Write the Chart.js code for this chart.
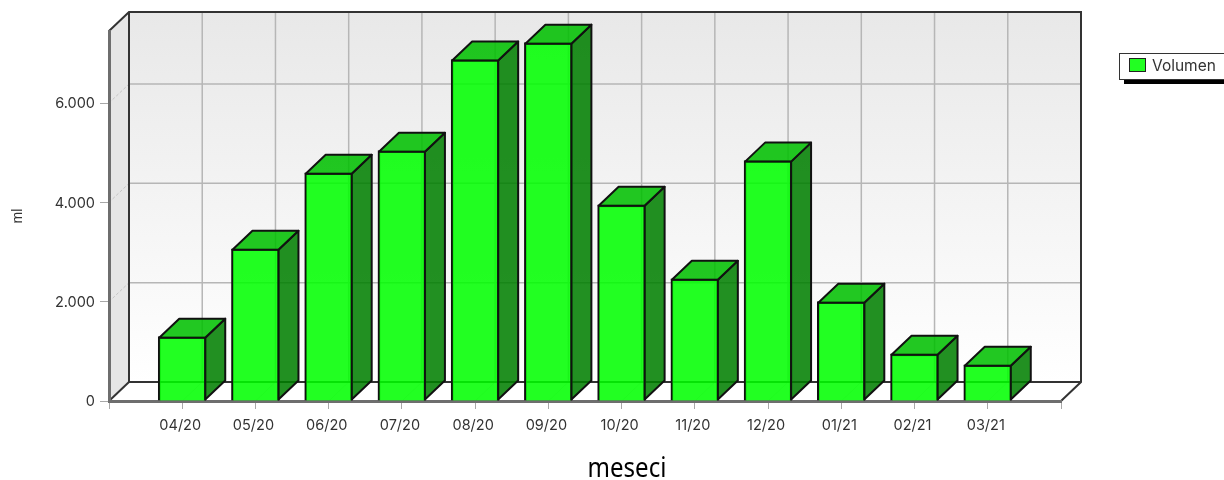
<!DOCTYPE html>
<html>
<head>
<meta charset="utf-8">
<title>Volumen</title>
<script src="https://cdn.jsdelivr.net/npm/chart.js@4"></script>
<style>
  html, body { margin: 0; padding: 0; background: #fff; }
  canvas { display: block; }
</style>
</head>
<body>
<canvas id="myChart" width="1224" height="480"></canvas>
<script>
const categories = ['04/20', '05/20', '06/20', '07/20', '08/20', '09/20', '10/20', '11/20', '12/20', '01/21', '02/21', '03/21'];
const volumen = [1295, 3065, 4595, 5040, 6875, 7215, 3950, 2460, 4840, 2000, 950, 730];
const yTicks = [0, 2000, 4000, 6000];
const yTickLabels = ['0', '2.000', '4.000', '6.000'];
const yMax = 7450;

const depthX = 20;
const depthY = 19;
const labelFont = '15.5px Inter';

// empty slots left and right so the bars sit inside the floor
const xLabels = [''].concat(categories, ['']);
const xValues = [null].concat(volumen, [null]);

function poly(ctx, pts, fill, stroke, lw) {
  ctx.beginPath();
  pts.forEach((p, i) => i ? ctx.lineTo(p[0], p[1]) : ctx.moveTo(p[0], p[1]));
  ctx.closePath();
  if (fill) { ctx.fillStyle = fill; ctx.fill(); }
  if (stroke) { ctx.strokeStyle = stroke; ctx.lineWidth = lw || 1; ctx.stroke(); }
}

function line(ctx, x1, y1, x2, y2) {
  ctx.beginPath();
  ctx.moveTo(x1, y1);
  ctx.lineTo(x2, y2);
  ctx.stroke();
}

/****walls, floor and grid*****/
const boxPlugin = {
  id: 'box',
  beforeDraw(chart) {
    const ctx = chart.ctx, a = chart.chartArea;
    const x = chart.scales.x, y = chart.scales.y;
    const backL = a.left + depthX, backR = a.right + depthX;
    const backT = a.top - depthY, backB = a.bottom - depthY;
    ctx.save();

    const wall = ctx.createLinearGradient(0, backT, 0, backB);
    wall.addColorStop(0, '#e8e8e8');
    wall.addColorStop(1, '#ffffff');
    poly(ctx, [[backL, backT], [backR, backT], [backR, backB], [backL, backB]], wall);
    poly(ctx, [[a.left, a.top], [backL, backT], [backL, backB], [a.left, a.bottom]], '#e6e6e6');
    poly(ctx, [[a.left, a.bottom], [backL, backB], [backR, backB], [a.right, a.bottom]], '#ffffff');

    ctx.strokeStyle = '#b6b6b6';
    ctx.lineWidth = 1.5;
    x.ticks.forEach((t, i) => {
      if (i === 0 || i === x.ticks.length - 1) return;
      const px = x.getPixelForTick(i);
      line(ctx, px + depthX, backT, px + depthX, backB);
    });
    yTicks.forEach(v => {
      if (v === 0) return;
      const py = y.getPixelForValue(v);
      line(ctx, backL, py - depthY, backR, py - depthY);
    });

    // faint lines on the side wall and the floor
    ctx.lineWidth = 1;
    ctx.strokeStyle = '#c4c4c4';
    ctx.setLineDash([3, 2]);
    yTicks.forEach(v => {
      if (v === 0) return;
      const py = y.getPixelForValue(v);
      line(ctx, a.left, py, backL, py - depthY);
    });
    ctx.setLineDash([]);
    ctx.strokeStyle = '#e4e4e4';
    x.ticks.forEach((t, i) => {
      if (i === 0 || i === x.ticks.length - 1) return;
      const px = x.getPixelForTick(i);
      line(ctx, px, a.bottom, px + depthX, backB);
    });

    ctx.strokeStyle = '#333333';
    ctx.lineWidth = 2;
    ctx.beginPath();
    ctx.moveTo(a.left, a.top);
    ctx.lineTo(backL, backT);
    ctx.lineTo(backR, backT);
    ctx.lineTo(backR, backB);
    ctx.lineTo(a.right, a.bottom);
    ctx.stroke();
    line(ctx, backL, backT, backL, backB);
    line(ctx, a.left, a.bottom, backL, backB);
    line(ctx, backL, backB, backR, backB);
    ctx.restore();
  }
};

/****side and top of every bar*****/
const barSidesPlugin = {
  id: 'barSides',
  afterDatasetsDraw(chart) {
    const ctx = chart.ctx;
    ctx.save();
    ctx.lineJoin = 'round';
    chart.getDatasetMeta(0).data.forEach((bar, i) => {
      if (xValues[i] === null) return;
      const right = bar.x + bar.width / 2 - 1;
      const left = bar.x - bar.width / 2 + 1;
      const top = bar.y + 1;
      const base = bar.base - 1;
      poly(ctx, [[right, top], [right + depthX, top - depthY], [right + depthX, base - depthY], [right, base]],
        'rgba(0, 127, 0, 0.867)', '#111111', 2);
      poly(ctx, [[left, top], [left + depthX, top - depthY], [right + depthX, top - depthY], [right, top]],
        'rgba(0, 191, 0, 0.867)', '#111111', 2);
    });
    ctx.restore();
  }
};

/****legend box and x title*****/
const textPlugin = {
  id: 'texts',
  afterDraw(chart) {
    const ctx = chart.ctx;
    ctx.save();
    ctx.fillStyle = '#000000';
    ctx.fillRect(1124, 79, 100, 5);
    ctx.fillStyle = '#ffffff';
    ctx.fillRect(1119.5, 53.5, 110, 26);
    ctx.strokeStyle = '#333333';
    ctx.lineWidth = 1;
    ctx.strokeRect(1119.5, 53.5, 110, 26);
    ctx.fillStyle = 'rgba(0, 255, 0, 0.867)';
    ctx.fillRect(1129.5, 58.5, 16, 13);
    ctx.strokeStyle = '#222222';
    ctx.strokeRect(1129.5, 58.5, 16, 13);
    ctx.fillStyle = '#333333';
    ctx.font = labelFont;
    ctx.textBaseline = 'middle';
    ctx.fillText(chart.data.datasets[0].label, 1152, 66.5);
    // the title is a bit narrower than any installed font
    ctx.fillStyle = '#000000';
    ctx.font = '27px "Noto Sans"';
    ctx.textAlign = 'center';
    ctx.textBaseline = 'alphabetic';
    ctx.translate(627, 477);
    ctx.scale(0.89, 1);
    ctx.fillText('meseci', 0, 0);
    ctx.restore();
  }
};

const chartConfig = {
  type: 'bar',
  data: {
    labels: xLabels,
    datasets: [{
      label: 'Volumen',
      data: xValues,
      backgroundColor: 'rgba(0, 255, 0, 0.867)',
      borderColor: '#111111',
      borderWidth: 2,
      barThickness: 48,
      clip: false
    }]
  },
  plugins: [boxPlugin, barSidesPlugin, textPlugin],
  options: {
    responsive: false,
    animation: false,
    layout: { padding: { top: 31, right: 163, bottom: 0, left: 0 } },
    plugins: { legend: { display: false }, tooltip: { enabled: false } },
    scales: {
      x: {
        offset: false,
        afterFit(s) { s.height = 79; },
        grid: { offset: false, drawOnChartArea: false, tickColor: '#a8a8a8', tickLength: 8, tickWidth: 1 },
        border: { color: '#6e6e6e', width: 3 },
        ticks: { font: { family: 'Inter', size: 14.5 }, color: '#333333', padding: 8, labelOffset: -2, autoSkip: false, maxRotation: 0 }
      },
      y: {
        min: 0,
        max: yMax,
        afterFit(s) { s.width = 109; },
        afterBuildTicks(s) { s.ticks = yTicks.map(v => ({ value: v })); },
        grid: { drawOnChartArea: false, tickColor: '#a8a8a8', tickLength: 9, tickWidth: 1 },
        border: { color: '#6e6e6e', width: 3 },
        title: { display: true, text: 'ml', color: '#333333', font: { family: 'Liberation Sans', size: 14 }, padding: { top: 10, bottom: 0 } },
        ticks: {
          font: { family: 'Inter', size: 14.5 },
          color: '#333333',
          padding: 5,
          labelOffset: 1,
          callback(value, index) { return yTickLabels[index]; }
        }
      }
    }
  }
};

var myChart = new Chart(document.getElementById('myChart'), chartConfig);
</script>
</body>
</html>
